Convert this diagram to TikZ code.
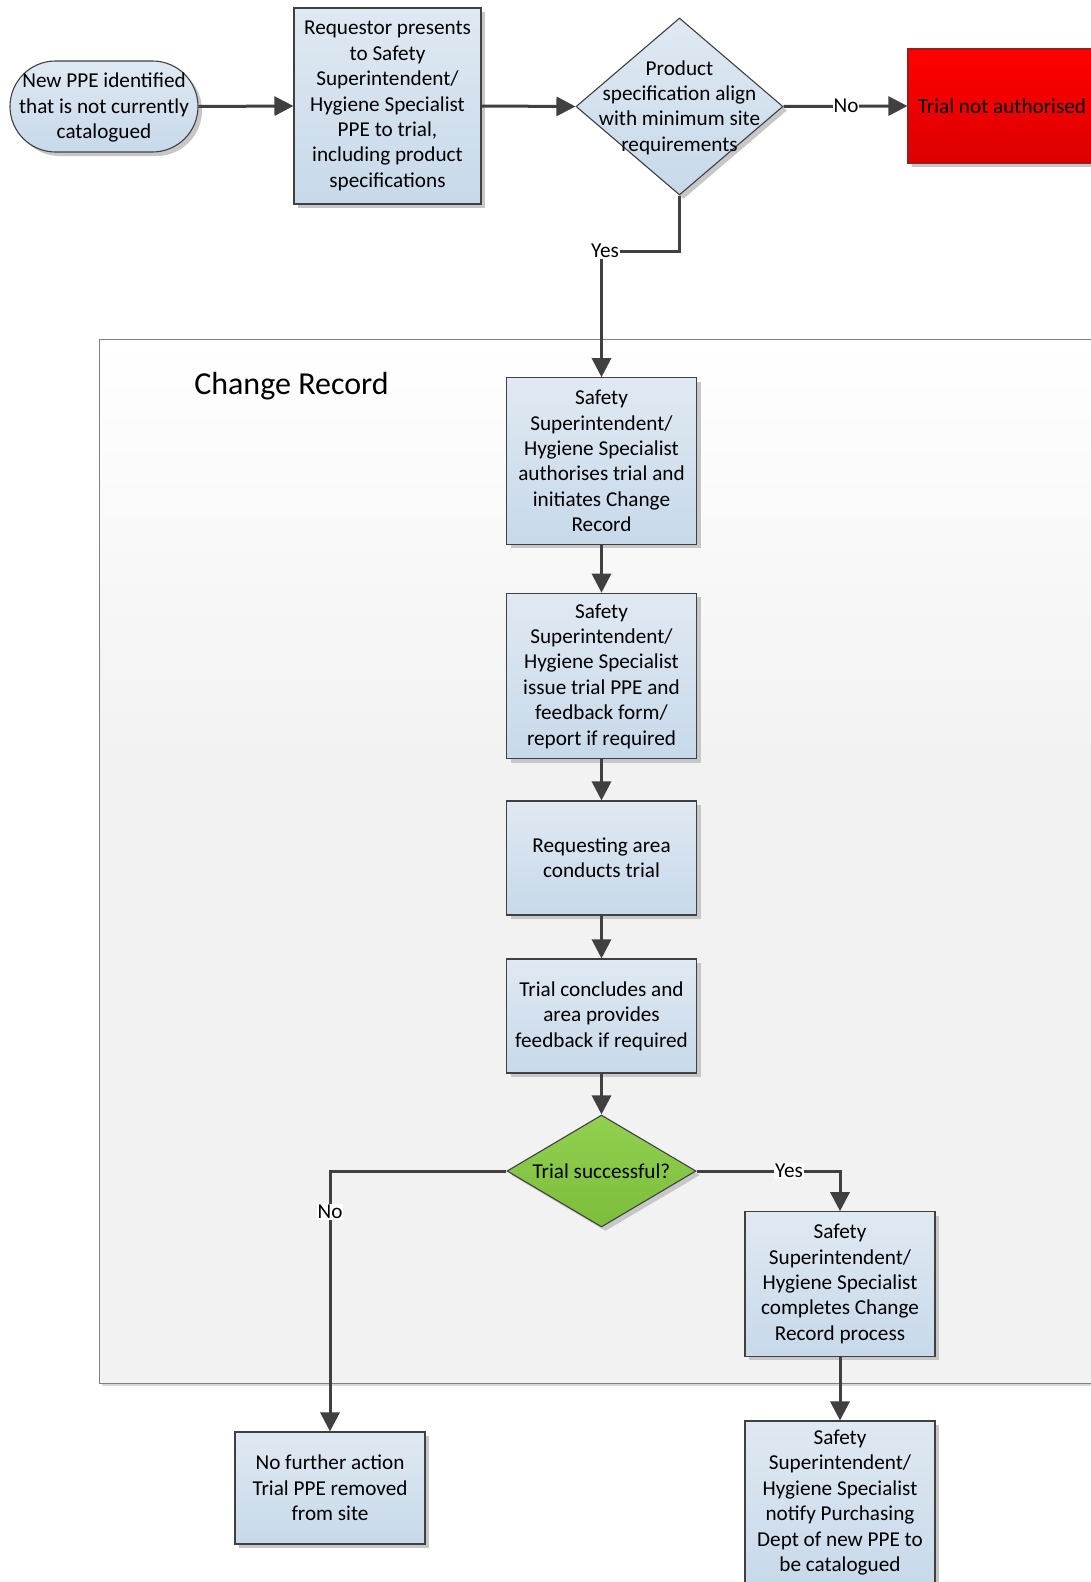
\documentclass[tikz,border=0pt]{standalone}
\usepackage{fontspec}
\setmainfont{Carlito}
\usetikzlibrary{shapes.geometric,shapes.misc,arrows.meta,shadows}
\definecolor{ln}{HTML}{404040}
\definecolor{bxtop}{HTML}{E0E9F2}
\definecolor{bxbot}{HTML}{C7D9EA}
\definecolor{bggray}{HTML}{F2F2F2}
\definecolor{grtop}{HTML}{92D050}
\definecolor{grbot}{HTML}{7CBD3C}
\definecolor{redtop}{HTML}{FF0000}
\definecolor{redbot}{HTML}{DC0000}
\definecolor{redln}{HTML}{9E1B1B}
\newcommand\boxfont{\fontsize{21.2}{25.4}\selectfont}
\tikzset{
  shd/.style={drop shadow={shadow xshift=4pt,shadow yshift=-4pt,fill=black!22,opacity=1}},
  pbox/.style={rectangle, draw=ln, line width=1.1pt, top color=bxtop, bottom color=bxbot,
    align=center, font=\boxfont, inner sep=0pt, minimum width=190pt, shd},
  term/.style={rounded rectangle, draw=ln, line width=1.1pt, top color=bxtop, bottom color=bxbot,
    inner sep=0pt, minimum width=188pt, minimum height=91pt, shd},
  decis/.style={diamond, draw=ln, line width=1.1pt, inner sep=0pt, shd},
  dtext/.style={align=center, font=\boxfont, inner sep=0pt},
  conn/.style={draw=ln, line width=3pt, -{Triangle[length=19pt,width=19pt]}},
  lbl/.style={fill=white, inner sep=1pt, font=\boxfont},
}
\begin{document}
\begin{tikzpicture}[x=1pt, y=-1pt]
\useasboundingbox (0,0) rectangle (1090,1582);
\fill[white] (0,0) rectangle (1090,1582);

% container
\node[rectangle, fill=bggray, minimum width=1010pt, minimum height=1044pt, anchor=north west, inner sep=0pt,
  drop shadow={shadow xshift=3pt,shadow yshift=-3pt,fill=black!15,opacity=1}] (cr) at (99,339) {};
\shade[top color=white, bottom color=bggray] (99,339) rectangle (1109,760);
\draw[black!50, line width=1pt] (cr.north east) -- (cr.north west) -- (cr.south west) -- (cr.south east);
\node[font=\fontsize{32}{38}\selectfont, anchor=center] (crtitle) at (291.5,386) {Change Record};

% top row
\node[term] (start) at (104,106.5) {};
\node[dtext] (startt) at (104,107.5) {New PPE identified\\that is not currently\\catalogued};
\node[pbox, minimum width=187pt, minimum height=196pt] (b1) at (387.5,106) {Requestor presents\\to Safety\\Superintendent/\\Hygiene Specialist\\PPE to trial,\\including product\\specifications};
\node[decis, top color=bxtop, bottom color=bxbot, minimum width=207pt, minimum height=177pt] (d1) at (679.5,106.5) {};
\node[dtext] (d1t) at (679.5,107.5) {Product\\specification align\\with minimum site\\requirements};
\node[rectangle, draw=redln, line width=1.1pt, top color=redtop, bottom color=redbot, minimum width=188pt,
  minimum height=114pt, inner sep=0pt, shd] (red) at (1002,106) {};
\node[font=\boxfont, inner sep=0pt] (redt) at (1002,106) {Trial not authorised};

% change record column
\node[pbox, minimum height=166.5pt] (b2) at (601.5,461) {Safety\\Superintendent/\\Hygiene Specialist\\authorises trial and\\initiates Change\\Record};
\node[pbox, minimum height=165.5pt] (b3) at (601.5,676) {Safety\\Superintendent/\\Hygiene Specialist\\issue trial PPE and\\feedback form/\\report if required};
\node[pbox, minimum height=114pt] (b4) at (601.5,858) {Requesting area\\conducts trial};
\node[pbox, minimum height=114pt] (b5) at (601.5,1016) {Trial concludes and\\area provides\\feedback if required};
\node[decis, top color=grtop, bottom color=grbot, minimum width=189pt, minimum height=112pt] (d2) at (601.5,1171) {};
\node[dtext] (d2t) at (d2) {Trial successful?};
\node[pbox, minimum height=144.5pt] (b6) at (840,1284) {Safety\\Superintendent/\\Hygiene Specialist\\completes Change\\Record process};
\node[pbox, minimum height=163pt] (b7) at (840,1502.5) {Safety\\Superintendent/\\Hygiene Specialist\\notify Purchasing\\Dept of new PPE to\\be catalogued};
\node[pbox, minimum height=112pt] (b8) at (330,1488) {No further action\\Trial PPE removed\\from site};

% connectors
\coordinate (ycorner) at (601.5,251);
\draw[conn] (start.east) -- (b1.west);
\draw[conn] (b1.east) -- (d1.west);
\draw[conn] (d1.east) -- (red.west);
\draw[conn] (d1.south) |- (ycorner) -- (b2.north);
\draw[conn] (b2.south) -- (b3.north);
\draw[conn] (b3.south) -- (b4.north);
\draw[conn] (b4.south) -- (b5.north);
\draw[conn] (b5.south) -- (d2.north);
\draw[conn] (d2.east) -| (b6.north);
\draw[conn] (d2.west) -| (b8.north);
\draw[conn] (b6.south) -- (b7.north);

% labels
\node[lbl] (lno1) at (846,106) {No};
\node[lbl] (lyes1) at (605,251) {Yes};
\node[lbl] (lyes2) at (789,1171) {Yes};
\node[lbl] (lno2) at (330,1212) {No};
\end{tikzpicture}
\end{document}
